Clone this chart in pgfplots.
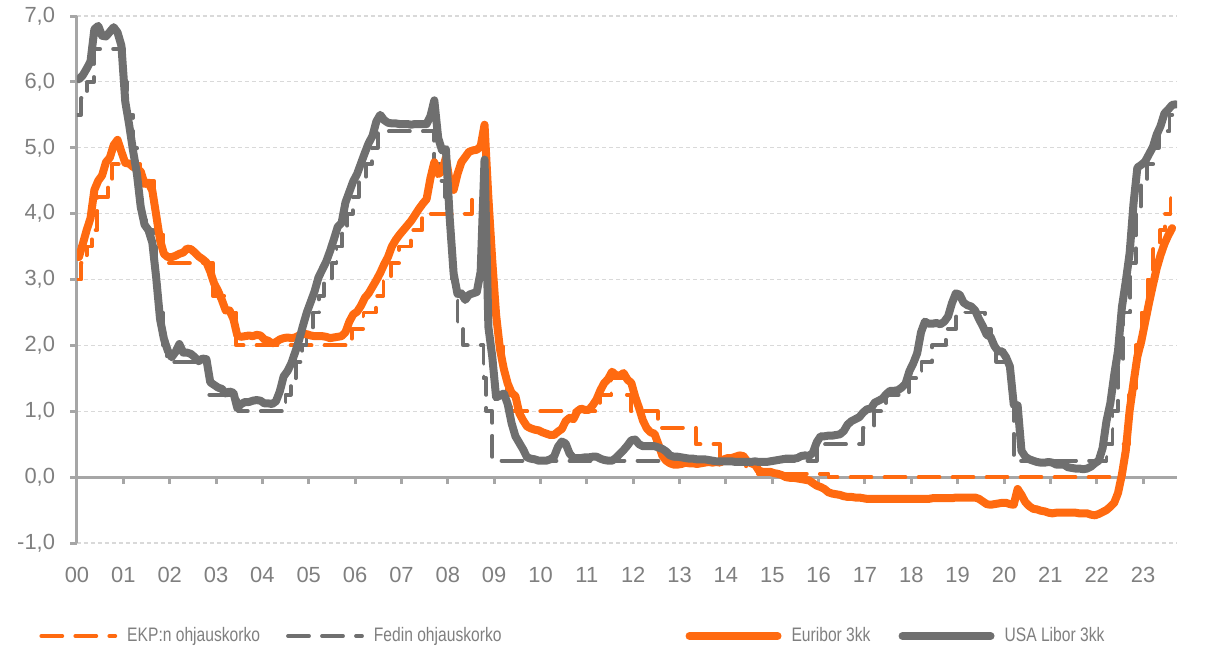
\documentclass[border=0pt]{standalone}
\usepackage{fontspec}
\setmainfont{Liberation Sans}
\newfontfamily\legfont[FakeStretch=0.8]{Liberation Sans}
\usepackage{pgfplots}
\usepackage{pgfplotstable}
\pgfplotsset{compat=1.18}
\definecolor{oranssi}{HTML}{FF6A10}
\definecolor{harmaa}{HTML}{6F6F6F}
\definecolor{akseli}{HTML}{A6A6A6}
\definecolor{teksti}{HTML}{7F7F7F}
\definecolor{ruudukko}{HTML}{D9D9D9}
\pgfplotsset{
  legdash/.style={legend image code/.code={\draw[##1] (0bp,0bp) -- (37bp,0bp);}},
  legsolid/.style={legend image code/.code={\draw[##1] (0bp,0bp) -- (44bp,0bp);}},
}

% Euribor 3kk, kuukausikeskiarvot 1/2000 - 8/2023
\pgfplotstableread[row sep=\\]{v\\
3.34\\3.54\\3.75\\3.93\\4.36\\4.50\\4.58\\4.78\\4.85\\5.04\\5.12\\4.94\\
4.77\\4.76\\4.71\\4.68\\4.64\\4.45\\4.47\\4.35\\3.98\\3.60\\3.39\\3.34\\
3.34\\3.36\\3.39\\3.41\\3.47\\3.46\\3.41\\3.35\\3.31\\3.26\\3.12\\2.94\\
2.83\\2.69\\2.53\\2.53\\2.40\\2.15\\2.13\\2.14\\2.15\\2.14\\2.16\\2.15\\
2.09\\2.07\\2.03\\2.05\\2.09\\2.11\\2.12\\2.11\\2.12\\2.15\\2.17\\2.17\\
2.15\\2.14\\2.14\\2.14\\2.13\\2.11\\2.12\\2.13\\2.14\\2.20\\2.36\\2.47\\
2.51\\2.60\\2.72\\2.79\\2.89\\2.99\\3.10\\3.23\\3.34\\3.50\\3.60\\3.68\\
3.75\\3.82\\3.89\\3.98\\4.07\\4.15\\4.22\\4.54\\4.78\\4.60\\4.64\\4.85\\
4.48\\4.36\\4.60\\4.78\\4.86\\4.94\\4.96\\4.97\\5.02\\5.35\\4.24\\3.29\\
2.46\\1.94\\1.64\\1.42\\1.28\\1.23\\0.97\\0.86\\0.77\\0.74\\0.72\\0.71\\
0.68\\0.66\\0.64\\0.64\\0.69\\0.73\\0.85\\0.90\\0.88\\1.00\\1.04\\1.02\\
1.02\\1.09\\1.18\\1.32\\1.43\\1.49\\1.60\\1.55\\1.54\\1.58\\1.48\\1.43\\
1.22\\1.05\\0.86\\0.74\\0.68\\0.66\\0.50\\0.33\\0.25\\0.21\\0.19\\0.19\\
0.20\\0.22\\0.21\\0.21\\0.20\\0.21\\0.22\\0.23\\0.22\\0.23\\0.22\\0.27\\
0.29\\0.29\\0.31\\0.33\\0.32\\0.24\\0.21\\0.19\\0.10\\0.08\\0.08\\0.08\\
0.06\\0.05\\0.03\\0.00\\-0.01\\-0.01\\-0.02\\-0.03\\-0.04\\-0.05\\-0.09\\-0.13\\
-0.15\\-0.18\\-0.23\\-0.25\\-0.26\\-0.27\\-0.29\\-0.30\\-0.30\\-0.31\\-0.31\\-0.32\\
-0.33\\-0.33\\-0.33\\-0.33\\-0.33\\-0.33\\-0.33\\-0.33\\-0.33\\-0.33\\-0.33\\-0.33\\
-0.33\\-0.33\\-0.33\\-0.33\\-0.33\\-0.32\\-0.32\\-0.32\\-0.32\\-0.32\\-0.32\\-0.31\\
-0.31\\-0.31\\-0.31\\-0.31\\-0.31\\-0.33\\-0.37\\-0.41\\-0.42\\-0.41\\-0.40\\-0.39\\
-0.39\\-0.41\\-0.42\\-0.18\\-0.27\\-0.38\\-0.44\\-0.48\\-0.49\\-0.51\\-0.52\\-0.54\\
-0.55\\-0.54\\-0.54\\-0.54\\-0.54\\-0.54\\-0.54\\-0.55\\-0.55\\-0.55\\-0.57\\-0.58\\
-0.56\\-0.53\\-0.50\\-0.45\\-0.39\\-0.24\\0.04\\0.40\\1.01\\1.43\\1.83\\2.06\\
2.35\\2.64\\2.91\\3.17\\3.37\\3.54\\3.67\\3.78\\
}\euribor

% USA Libor 3kk, kuukausikeskiarvot 1/2000 - 9/2023
\pgfplotstableread[row sep=\\]{v\\
6.04\\6.10\\6.20\\6.31\\6.80\\6.85\\6.70\\6.69\\6.76\\6.83\\6.75\\6.55\\
5.70\\5.35\\4.96\\4.61\\4.10\\3.83\\3.75\\3.56\\3.03\\2.40\\2.10\\1.92\\
1.82\\1.90\\2.02\\1.89\\1.89\\1.87\\1.82\\1.76\\1.80\\1.79\\1.44\\1.40\\
1.36\\1.34\\1.27\\1.30\\1.28\\1.05\\1.11\\1.14\\1.14\\1.16\\1.17\\1.16\\
1.12\\1.12\\1.11\\1.15\\1.30\\1.53\\1.61\\1.73\\1.90\\2.08\\2.30\\2.50\\
2.66\\2.82\\3.03\\3.15\\3.27\\3.43\\3.61\\3.80\\3.86\\4.17\\4.33\\4.49\\
4.60\\4.76\\4.92\\5.07\\5.18\\5.40\\5.50\\5.42\\5.38\\5.37\\5.37\\5.36\\
5.36\\5.36\\5.35\\5.36\\5.36\\5.36\\5.36\\5.48\\5.72\\5.15\\4.96\\4.98\\
3.92\\3.09\\2.78\\2.79\\2.69\\2.77\\2.79\\2.81\\3.12\\4.82\\2.28\\1.83\\
1.21\\1.24\\1.27\\1.11\\0.82\\0.62\\0.52\\0.42\\0.30\\0.28\\0.27\\0.25\\
0.25\\0.25\\0.27\\0.31\\0.46\\0.54\\0.51\\0.36\\0.29\\0.29\\0.29\\0.30\\
0.30\\0.31\\0.31\\0.28\\0.26\\0.25\\0.25\\0.29\\0.35\\0.41\\0.48\\0.56\\
0.57\\0.50\\0.47\\0.47\\0.47\\0.47\\0.45\\0.43\\0.39\\0.33\\0.31\\0.31\\
0.30\\0.29\\0.28\\0.28\\0.27\\0.27\\0.27\\0.26\\0.25\\0.24\\0.24\\0.24\\
0.24\\0.24\\0.23\\0.23\\0.23\\0.23\\0.23\\0.24\\0.23\\0.23\\0.23\\0.24\\
0.25\\0.26\\0.27\\0.28\\0.28\\0.28\\0.29\\0.32\\0.33\\0.32\\0.37\\0.53\\
0.62\\0.62\\0.63\\0.63\\0.64\\0.65\\0.70\\0.80\\0.85\\0.88\\0.91\\0.98\\
1.03\\1.04\\1.13\\1.16\\1.19\\1.26\\1.31\\1.31\\1.32\\1.36\\1.42\\1.61\\
1.73\\1.88\\2.20\\2.36\\2.33\\2.33\\2.34\\2.32\\2.36\\2.44\\2.64\\2.79\\
2.77\\2.65\\2.61\\2.59\\2.53\\2.40\\2.29\\2.16\\2.13\\1.99\\1.91\\1.91\\
1.82\\1.68\\1.10\\1.09\\0.40\\0.31\\0.27\\0.25\\0.23\\0.22\\0.22\\0.23\\
0.22\\0.19\\0.19\\0.19\\0.15\\0.14\\0.13\\0.13\\0.12\\0.13\\0.16\\0.21\\
0.25\\0.44\\0.85\\1.12\\1.55\\1.92\\2.58\\2.97\\3.40\\4.15\\4.70\\4.74\\
4.79\\4.90\\5.01\\5.20\\5.33\\5.52\\5.58\\5.65\\5.66\\
}\libor

\begin{document}
\begin{tikzpicture}
\path[use as bounding box] (-38.5bp,-53.5bp) rectangle (564.5bp,271.5bp);
\begin{axis}[
  scale only axis, width=550bp, height=263.5bp,
  xmin=2000, xmax=2023.73, ymin=-1, ymax=7,
  axis x line=middle, axis y line=left,
  axis line style={draw=akseli, line width=1.5bp, -},
  hide obscured x ticks=false, hide obscured y ticks=false,
  xtick={2000,...,2023},
  xticklabels={00,01,02,03,04,05,06,07,08,09,10,11,12,13,14,15,16,17,18,19,20,21,22,23},
  ytick={-1,0,...,7},
  tick align=outside, major tick length=3.5bp,
  tick style={draw=akseli, line width=1.5bp},
  xticklabel style={font=\fontsize{11}{13}\selectfont, text=teksti, anchor=north, yshift=-38bp},
  yticklabel style={font=\fontsize{11}{13}\selectfont, text=teksti, xshift=-4bp},
  /pgf/number format/.cd, use comma, fixed, fixed zerofill, precision=1, assume math mode=true,
  /pgfplots/.cd,
  ymajorgrids, grid style={draw=ruudukko, line width=0.6bp, dash pattern=on 2bp off 1.5bp},
  legend columns=4,
  legend cell align=left,
  legend style={at={(-0.0345,-0.1765)}, anchor=west, draw=none, fill=none,
    inner xsep=0pt, inner ysep=0pt,
    font=\legfont\fontsize{9.8}{11}\selectfont, text=teksti,
    nodes={inner sep=0pt},
    /tikz/column 1/.style={column sep=5bp},
    /tikz/column 2/.style={column sep=13bp},
    /tikz/column 3/.style={column sep=5bp},
    /tikz/column 4/.style={column sep=92bp},
    /tikz/column 5/.style={column sep=5bp},
    /tikz/column 6/.style={column sep=14bp},
    /tikz/column 7/.style={column sep=5bp}},
  every axis plot/.append style={line cap=round, line join=round},
]
% EKP:n ohjauskorko
\addplot[const plot, draw=oranssi, line width=1.9bp, dash pattern=on 10.5bp off 6.5bp, legdash]
coordinates {(2000.00,3.00) (2000.09,3.25) (2000.21,3.50) (2000.32,3.75) (2000.44,4.25)
 (2000.67,4.50) (2000.76,4.75) (2001.36,4.50) (2001.66,4.25) (2001.71,3.75) (2001.86,3.25)
 (2002.93,2.75) (2003.18,2.50) (2003.43,2.00) (2005.93,2.25) (2006.18,2.50) (2006.45,2.75)
 (2006.61,3.00) (2006.78,3.25) (2006.95,3.50) (2007.20,3.75) (2007.45,4.00) (2008.52,4.25)
 (2008.79,3.75) (2008.87,3.25) (2008.94,2.50) (2009.05,2.00) (2009.19,1.50) (2009.27,1.25)
 (2009.36,1.00) (2011.28,1.25) (2011.53,1.50) (2011.86,1.25) (2011.95,1.00) (2012.53,0.75)
 (2013.35,0.50) (2013.87,0.25) (2014.44,0.15) (2014.69,0.05) (2016.21,0.00) (2022.57,0.50)
 (2022.70,1.25) (2022.84,2.00) (2022.97,2.50) (2023.10,3.00) (2023.22,3.50) (2023.36,3.75)
 (2023.47,4.00) (2023.59,4.25) (2023.73,4.25)};
\addlegendentry{EKP:n ohjauskorko}
% Fedin ohjauskorko
\addplot[const plot, draw=harmaa, line width=1.9bp, dash pattern=on 10.5bp off 6.5bp, legdash]
coordinates {(2000.00,5.50) (2000.09,5.75) (2000.22,6.00) (2000.37,6.50) (2001.01,6.00)
 (2001.08,5.50) (2001.21,5.00) (2001.29,4.50) (2001.37,4.00) (2001.49,3.75) (2001.64,3.50)
 (2001.71,3.00) (2001.75,2.50) (2001.85,2.00) (2001.94,1.75) (2002.85,1.25) (2003.48,1.00)
 (2004.50,1.25) (2004.61,1.50) (2004.72,1.75) (2004.86,2.00) (2004.95,2.25) (2005.09,2.50)
 (2005.22,2.75) (2005.33,3.00) (2005.50,3.25) (2005.60,3.50) (2005.72,3.75) (2005.83,4.00)
 (2005.95,4.25) (2006.08,4.50) (2006.24,4.75) (2006.36,5.00) (2006.49,5.25) (2007.71,4.75)
 (2007.83,4.50) (2007.94,4.25) (2008.06,3.50) (2008.08,3.00) (2008.21,2.25) (2008.33,2.00)
 (2008.77,1.50) (2008.83,1.00) (2008.96,0.25) (2015.96,0.50) (2016.95,0.75) (2017.20,1.00)
 (2017.45,1.25) (2017.95,1.50) (2018.22,1.75) (2018.45,2.00) (2018.74,2.25) (2018.97,2.50)
 (2019.58,2.25) (2019.71,2.00) (2019.83,1.75) (2020.17,1.25) (2020.21,0.25) (2022.21,0.50)
 (2022.34,1.00) (2022.46,1.75) (2022.57,2.50) (2022.72,3.25) (2022.84,4.00) (2022.95,4.50)
 (2023.09,4.75) (2023.22,5.00) (2023.34,5.25) (2023.57,5.50) (2023.73,5.50)};
\addlegendentry{Fedin ohjauskorko}
% Euribor 3kk
\addplot[draw=oranssi, line width=4bp, legsolid]
  table[x expr=2000+\coordindex/12+1/24, y=v] {\euribor};
\addlegendentry{Euribor 3kk}
% USA Libor 3kk
\addplot[draw=harmaa, line width=4bp, legsolid]
  table[x expr=2000+\coordindex/12+1/24, y=v] {\libor};
\addlegendentry{USA Libor 3kk}
\end{axis}
\end{tikzpicture}
\end{document}
